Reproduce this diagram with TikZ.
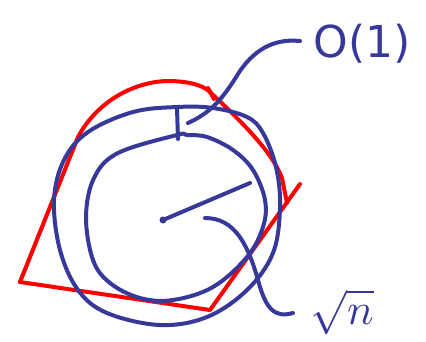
\documentclass[tikz,border=0pt]{standalone}
\usepackage{fontspec}
\newfontfamily\labelfont{DejaVu Sans}
\definecolor{pen}{RGB}{54,56,154}
\definecolor{redpen}{RGB}{255,0,0}
\tikzset{
  bluestroke/.style={draw=pen,line width=4pt,line cap=round,line join=round},
  redstroke/.style={draw=redpen,line width=4pt,line cap=round,line join=round},
  lbl/.style={text=pen,inner sep=0pt}
}
\begin{document}
\begin{tikzpicture}[x=1pt,y=-1pt]
\useasboundingbox (0,0) rectangle (426,341);
% red shape
\draw[redstroke] (20,282) -- (78,137)
  .. controls (98,100) and (135,82) .. (167,81)
  .. controls (188,81) and (203,85) .. (210,92)
  .. controls (245,125) and (272,152) .. (282,178)
  -- (287,203);
\draw[redstroke] (208,88) -- (214,99);
\draw[redstroke] (300,184) -- (210,310) -- (20,282);
% outer blue circle
\draw[bluestroke] plot[smooth cycle,tension=0.6] coordinates {
 (177,107) (133,112) (88,132) (64,160) (54,200) (60,250) (78,290) (107,313)
 (160,325) (207,317) (247,290) (273,253) (280,207) (276,167) (263,133) (247,117) (213,108)};
% inner blue circle
\draw[bluestroke] plot[smooth cycle,tension=0.6] coordinates {
 (177,135) (118,153) (94,178) (86,217) (93,260) (110,283) (140,298) (173,300)
 (213,287) (247,257) (263,227) (265,200) (253,170) (233,150) (207,137) (187,135)};
% gap mark
\coordinate (gtop) at (177,108);
\coordinate (gbot) at (178,139);
\draw[bluestroke] (gtop) -- (gbot);
% radius
\coordinate (ctr) at (163,220);
\coordinate (rim) at (250,183);
\fill[pen] (ctr) circle (3.5pt);
\draw[bluestroke] (ctr) -- (rim);
% labels
\node[lbl,font=\labelfont\fontsize{44}{44}\selectfont] (o1) at (362,44) {O(1)};
\node[lbl,scale=4.4] (sq) at (342,312) {$\sqrt{n}$};
% leaders
\coordinate (o1end) at (188,123);
\draw[bluestroke] (o1end) .. controls (210,113) and (222,100) .. (238,74)
  .. controls (252,52) and (272,38) .. (300,41);
\coordinate (sqend) at (205,218);
\draw[bluestroke] (sqend) .. controls (235,218) and (248,245) .. (258,280)
  .. controls (266,310) and (275,318) .. (293,313);
\end{tikzpicture}
\end{document}
